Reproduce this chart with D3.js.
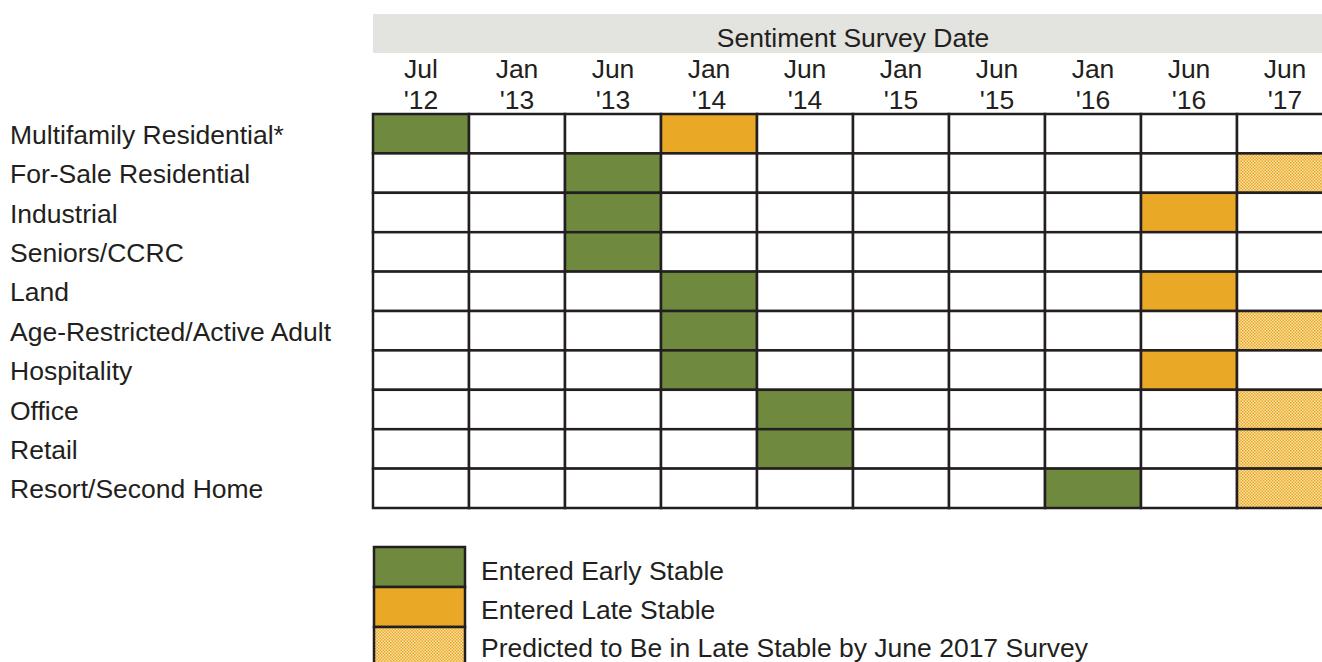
<!DOCTYPE html>
<html>
<head>
<meta charset="utf-8">
<script src="https://cdn.jsdelivr.net/npm/d3@7"></script>
<style>
  body { margin: 0; background: #fff; }
  svg text { font-family: "Liberation Sans", Arial, sans-serif; fill: #231f20; }
</style>
</head>
<body>
<div id="chart"></div>
<script>
// data
var surveyMonths = ["Jul", "Jan", "Jun", "Jan", "Jun", "Jan", "Jun", "Jan", "Jun", "Jun"];
var surveyYears  = ["'12", "'13", "'13", "'14", "'14", "'15", "'15", "'16", "'16", "'17"];
var sectors = ["Multifamily Residential*", "For-Sale Residential", "Industrial", "Seniors/CCRC",
  "Land", "Age-Restricted/Active Adult", "Hospitality", "Office", "Retail", "Resort/Second Home"];
// column index of each status per sector (-1 = none)
var earlyStable     = [0, 2, 2, 2, 3, 3, 3, 4, 4, 7];
var lateStable      = [3, -1, 8, -1, 8, -1, 8, -1, -1, -1];
var predictedLate   = [-1, 9, -1, -1, -1, 9, -1, 9, 9, 9];
var legendLabels = ["Entered Early Stable", "Entered Late Stable", "Predicted to Be in Late Stable by June 2017 Survey"];

var width = 1322, height = 662;
var green = "#6f8a3e", orange = "#e9a825", ink = "#231f20";
var fs = "26.5px";

var svg = d3.select("#chart").append("svg")
    .attr("width", width).attr("height", height);

// hatch pattern for predicted cells
var defs = svg.append("defs");
var pat = defs.append("pattern").attr("id", "hatch")
    .attr("patternUnits", "userSpaceOnUse").attr("width", 3).attr("height", 3);
pat.append("rect").attr("width", 3).attr("height", 3).attr("fill", "#fbe0a8");
pat.append("rect").attr("width", 1.5).attr("height", 1.5).attr("fill", orange);
pat.append("rect").attr("x", 1.5).attr("y", 1.5).attr("width", 1.5).attr("height", 1.5).attr("fill", orange);

var x = d3.scaleBand().domain(d3.range(surveyMonths.length)).range([373, 1333]);
var y = d3.scaleBand().domain(d3.range(sectors.length)).range([114, 508]);

// header band
svg.append("rect").attr("x", 373).attr("y", 14).attr("width", width - 373).attr("height", 39)
    .attr("fill", "#e3e3df");
svg.append("text").attr("x", 853).attr("y", 47)
    .attr("text-anchor", "middle").style("font-size", fs).text("Sentiment Survey Date");

// column labels
var colG = svg.append("g");
colG.selectAll("text.m").data(surveyMonths).join("text").attr("class", "m")
    .attr("x", function(d, i) { return x(i) + x.bandwidth() / 2; })
    .attr("y", 78).attr("text-anchor", "middle").style("font-size", fs)
    .text(function(d) { return d; });
colG.selectAll("text.yr").data(surveyYears).join("text").attr("class", "yr")
    .attr("x", function(d, i) { return x(i) + x.bandwidth() / 2; })
    .attr("y", 109).attr("text-anchor", "middle").style("font-size", fs)
    .text(function(d) { return d; });

// row labels
svg.append("g").selectAll("text").data(sectors).join("text")
    .attr("x", 10)
    .attr("y", function(d, i) { return y(i) + y.bandwidth() / 2 + 10; })
    .style("font-size", fs)
    .text(function(d) { return d; });

// cells
var cells = [];
sectors.forEach(function(s, r) {
  surveyMonths.forEach(function(m, c) {
    var fill = "#fff";
    if (earlyStable[r] === c) fill = green;
    else if (lateStable[r] === c) fill = orange;
    else if (predictedLate[r] === c) fill = "url(#hatch)";
    cells.push({ r: r, c: c, fill: fill });
  });
});
svg.append("g").selectAll("rect").data(cells).join("rect")
    .attr("x", function(d) { return x(d.c); })
    .attr("y", function(d) { return y(d.r); })
    .attr("width", x.bandwidth())
    .attr("height", y.bandwidth())
    .attr("fill", function(d) { return d.fill; })
    .attr("stroke", ink).attr("stroke-width", 2.5);

// legend
var legFills = [green, orange, "url(#hatch)"];
var leg = svg.append("g");
leg.selectAll("rect").data(legFills).join("rect")
    .attr("x", 374).attr("y", function(d, i) { return 547 + i * 40; })
    .attr("width", 91).attr("height", 40)
    .attr("fill", function(d) { return d; })
    .attr("stroke", ink).attr("stroke-width", 2.5);
leg.selectAll("text").data(legendLabels).join("text")
    .attr("x", 481).attr("y", function(d, i) { return 580 + i * 38.5; })
    .style("font-size", fs)
    .text(function(d) { return d; });
</script>
</body>
</html>
